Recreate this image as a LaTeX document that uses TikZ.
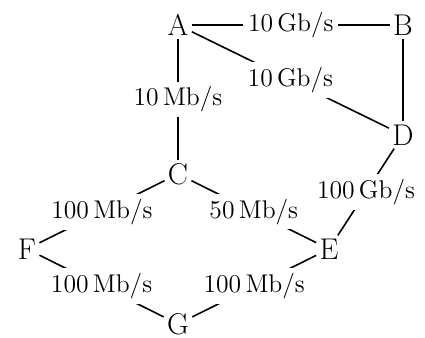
\documentclass[tikz,border=0pt]{standalone}
\begin{document}
\begin{tikzpicture}[x=0.5pt,y=-0.5pt,
  vtx/.style={inner sep=1.5pt,font=\fontsize{15}{18}\selectfont},
  lbl/.style={fill=white,inner sep=2.5pt,font=\fontsize{12.8}{15}\selectfont},
  edge/.style={line width=0.8pt}]
\useasboundingbox (0,0) rectangle (425,338);
\node[vtx] (A) at (178,25) {A};
\node[vtx] (B) at (403,25) {B};
\node[vtx] (D) at (403,135) {D};
\node[vtx] (C) at (178,174) {C};
\node[vtx] (E) at (329,249) {E};
\node[vtx] (F) at (27,249) {F};
\node[vtx] (G) at (178,324) {G};
\draw[edge] (A) -- node[lbl]{10\,Gb/s} (B);
\draw[edge] (A) -- node[lbl]{10\,Gb/s} (D);
\draw[edge] (B) -- (D);
\draw[edge] (A) -- node[lbl]{10\,Mb/s} (C);
\draw[edge] (D) -- node[lbl]{100\,Gb/s} (E);
\draw[edge] (C) -- node[lbl]{100\,Mb/s} (F);
\draw[edge] (C) -- node[lbl]{50\,Mb/s} (E);
\draw[edge] (F) -- node[lbl]{100\,Mb/s} (G);
\draw[edge] (G) -- node[lbl]{100\,Mb/s} (E);
\end{tikzpicture}
\end{document}
